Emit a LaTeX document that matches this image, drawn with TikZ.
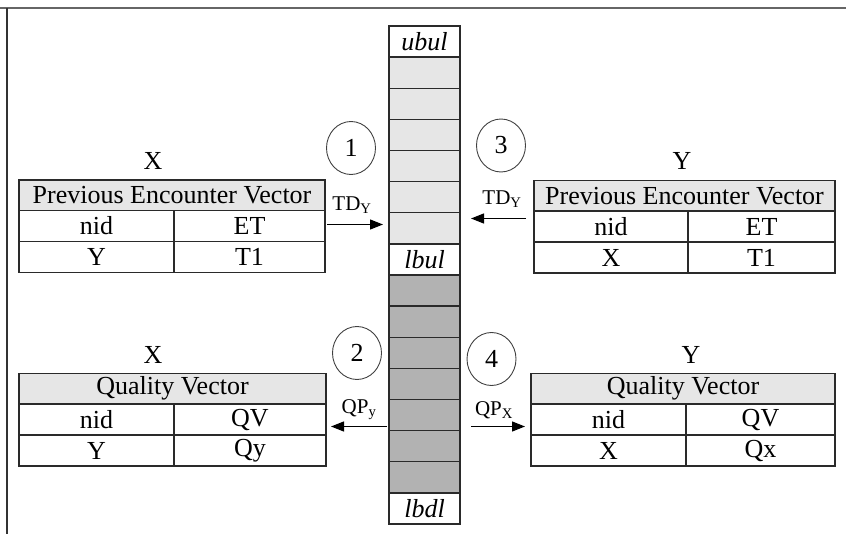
\documentclass[tikz,border=0pt]{standalone}
\usepackage{fontspec}
\setmainfont{Liberation Serif}
\usetikzlibrary{shapes.geometric,arrows.meta}
\definecolor{lightcell}{HTML}{E6E6E6}
\definecolor{darkcell}{HTML}{B2B2B2}
\definecolor{linecol}{HTML}{2A2A2A}
\newcommand\vtab[9]{%
 \node[hdr, minimum width={#4-#2}] (#1h) at ({(#2+#4)/2},{#5+15.25}) {#6};
 \node[cell, minimum width={#3-#2}] (#1a) at ({(#2+#3)/2},{#5+46}) {nid};
 \node[cell, minimum width={#4-#3}] (#1b) at ({(#3+#4)/2},{#5+46}) {#7};
 \node[cell, minimum width={#3-#2}] (#1c) at ({(#2+#3)/2},{#5+77}) {#8};
 \node[cell, minimum width={#4-#3}] (#1d) at ({(#3+#4)/2},{#5+77}) {#9};
}
\begin{document}
\begin{tikzpicture}[x=1pt,y=-1pt,
  txt/.style={font=\fontsize{26}{30}\selectfont, inner sep=0pt},
  hdr/.style={draw=linecol, line width=1.3pt, fill=lightcell, minimum height=30.5pt, inner sep=0pt, font=\fontsize{26}{30}\selectfont},
  cell/.style={draw=linecol, line width=1.3pt, fill=white, minimum height=31pt, inner sep=0pt, font=\fontsize{26}{30}\selectfont},
  colcell/.style={draw=linecol, line width=1.3pt, minimum width=71pt, minimum height=31.125pt, inner sep=0pt, font=\fontsize{26}{30}\selectfont\itshape},
  num/.style={ellipse, draw=black!75, line width=0.9pt, minimum width=49pt, minimum height=53pt, inner sep=0pt, font=\fontsize{26}{30}\selectfont},
  arr/.style={line width=1.3pt, -{Triangle[length=13pt,width=10pt]}},
  lab/.style={font=\fontsize{21}{24}\selectfont, inner sep=0pt}
]
\useasboundingbox (0,0) rectangle (846,534);
\draw[black!60, line width=2pt] (0,8) -- (846,8);
\draw[black!80, line width=1.2pt] (7,8) -- (7,534);

% central column
\foreach \i/\f/\t in {0/white/ubul,1/lightcell/,2/lightcell/,3/lightcell/,4/lightcell/,5/lightcell/,6/lightcell/,7/white/lbul,8/darkcell/,9/darkcell/,10/darkcell/,11/darkcell/,12/darkcell/,13/darkcell/,14/darkcell/,15/white/lbdl}
  \node[colcell, fill=\f] (c\i) at (424.5,{26+31.125*\i+15.5625}) {\t};

% tables
\vtab{lt}{19}{174}{325}{180}{Previous Encounter Vector}{ET}{Y}{T1}
\vtab{rt}{534}{688}{835}{180.5}{Previous Encounter Vector}{ET}{X}{T1}
\vtab{lb}{19}{174}{326}{373.5}{Quality Vector}{QV}{Y}{Qy}
\vtab{rb}{531}{686}{835}{373.5}{Quality Vector}{QV}{X}{Qx}

% titles
\node[txt] (xt) at (153,161) {X};
\node[txt] (yt) at (682,161) {Y};
\node[txt] (xb) at (153,355) {X};
\node[txt] (yb) at (691,355) {Y};

% numbered ellipses
\node[num] (n1) at (351,148) {1};
\node[num] (n3) at (501,145.5) {3};
\node[num] (n2) at (357,353) {2};
\node[num] (n4) at (491.5,359) {4};

% arrows
\coordinate (a1s) at (327,224.5);
\coordinate (a1e) at (383,224.5);
\coordinate (a3s) at (526,218.5);
\coordinate (a3e) at (471,218.5);
\coordinate (a2s) at (387,426.5);
\coordinate (a2e) at (331,426.5);
\coordinate (a4s) at (471,426.5);
\coordinate (a4e) at (525,426.5);
\draw[arr] (a1s) -- (a1e);
\draw[arr] (a3s) -- (a3e);
\draw[arr] (a2s) -- (a2e);
\draw[arr] (a4s) -- (a4e);
\node[lab] (l1) at (352,205) {TD\textsubscript{Y}};
\node[lab] (l3) at (502,199) {TD\textsubscript{Y}};
\node[lab] (l2) at (359,410) {QP\textsubscript{y}};
\node[lab] (l4) at (494,410) {QP\textsubscript{X}};
\end{tikzpicture}
\end{document}
